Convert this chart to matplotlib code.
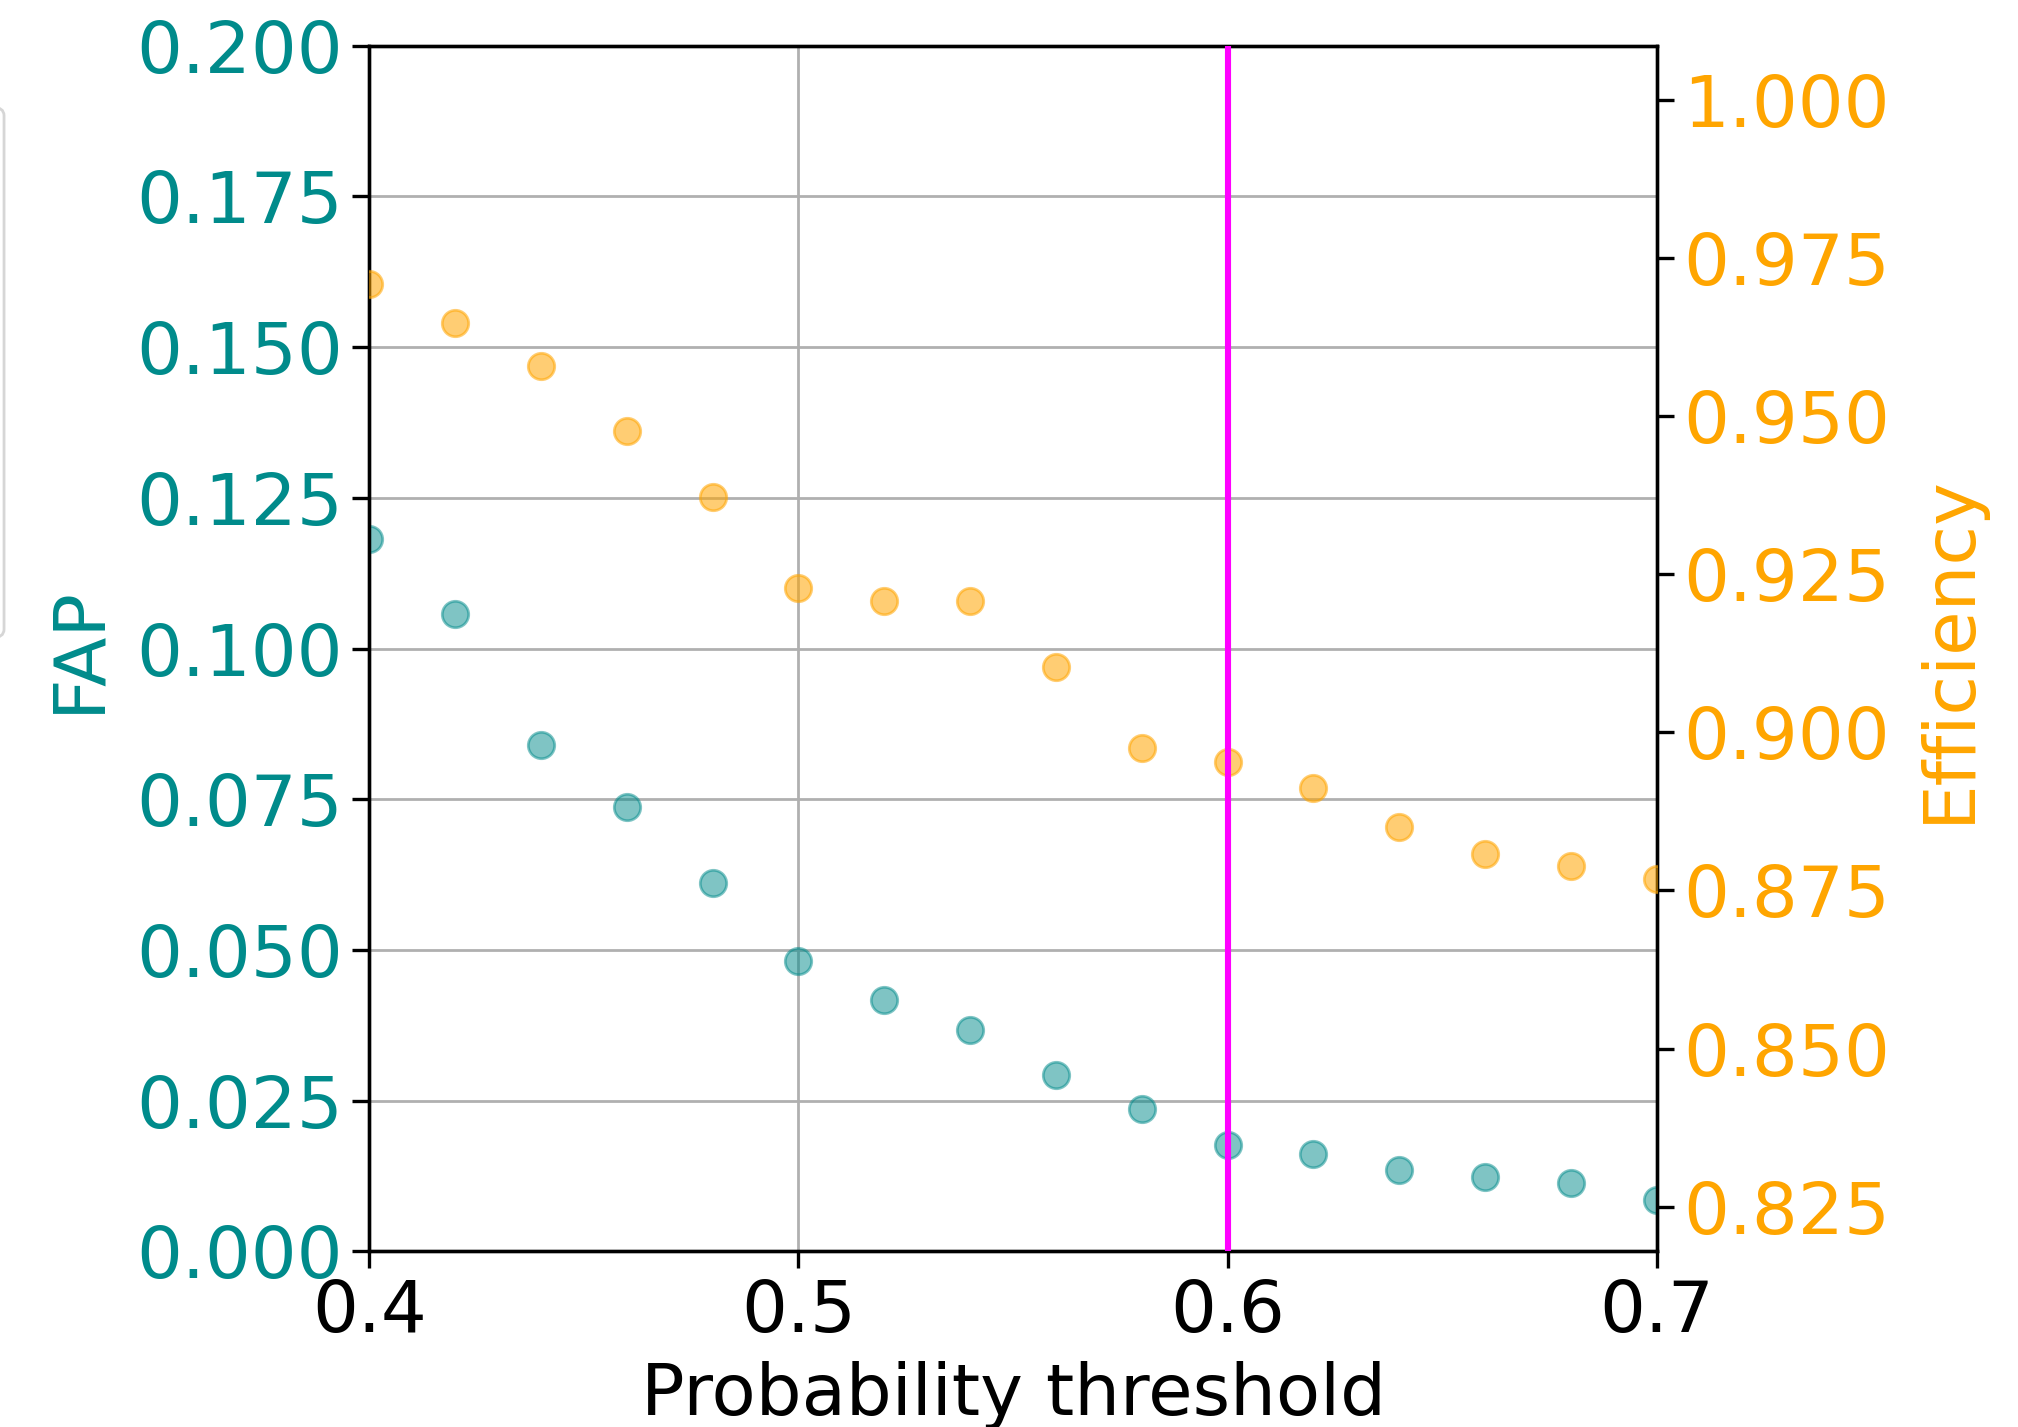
import matplotlib
matplotlib.use('Agg')
import matplotlib.pyplot as plt
from matplotlib.patches import FancyBboxPatch

# thresholds and the two curves
thresholds = [0.40, 0.42, 0.44, 0.46, 0.48, 0.50, 0.52, 0.54,
              0.56, 0.58, 0.60, 0.62, 0.64, 0.66, 0.68, 0.70]
fap = [0.1182, 0.1058, 0.0840, 0.0737, 0.0611, 0.0481, 0.0417, 0.0368,
       0.0293, 0.0237, 0.0177, 0.0162, 0.0135, 0.0124, 0.0113, 0.0085]
efficiency = [0.9709, 0.9648, 0.9580, 0.9477, 0.9373, 0.9228, 0.9208, 0.9208,
              0.9104, 0.8975, 0.8953, 0.8912, 0.8851, 0.8808, 0.8788, 0.8768]
chosen_threshold = 0.6

fap_ticks = [0.0, 0.025, 0.05, 0.075, 0.1, 0.125, 0.15, 0.175, 0.2]
eff_ticks = [0.825, 0.85, 0.875, 0.9, 0.925, 0.95, 0.975, 1.0]
x_ticks = [0.4, 0.5, 0.6, 0.7]

fs = 26
fig = plt.figure(figsize=(10.09, 7.135), dpi=200)
ax = fig.add_axes([0.183, 0.123, 0.638, 0.845])

ax.plot(thresholds, fap, 'o', color='darkcyan', alpha=0.5, markersize=9.5,
        zorder=3)
ax.set_xlim(0.4, 0.7)
ax.set_ylim(0, 0.2)
ax.set_xticks(x_ticks)
ax.set_xticklabels(['{:.1f}'.format(t) for t in x_ticks])
ax.set_yticks(fap_ticks)
ax.set_yticklabels(['{:.3f}'.format(t) for t in fap_ticks])
ax.grid(True, color='#b0b0b0', linewidth=1.0)
ax.tick_params(axis='both', labelsize=fs, length=6, width=1.2)
ax.tick_params(axis='y', labelcolor='darkcyan')
ax.set_xlabel('Probability threshold', fontsize=fs, labelpad=5)
ax.set_ylabel('FAP', fontsize=fs, color='darkcyan', labelpad=8)
for s in ax.spines.values():
    s.set_linewidth(1.2)

ax2 = ax.twinx()
ax2.plot(thresholds, efficiency, 'o', color='orange', alpha=0.55, markersize=9.5,
         zorder=3)
ax2.set_ylim(0.8179, 1.0086)
ax2.set_yticks(eff_ticks)
ax2.set_yticklabels(['{:.3f}'.format(t) for t in eff_ticks])
ax2.tick_params(axis='y', labelsize=fs, labelcolor='orange', length=6, width=1.2)
ax2.set_ylabel('Efficiency', fontsize=fs, color='orange', labelpad=9)
for s in ax2.spines.values():
    s.set_linewidth(1.2)

ax2.axvline(chosen_threshold, color='magenta', linewidth=2.2, zorder=4)

# edge of a legend box cut off at the left border
box = FancyBboxPatch((-0.05, 0.553), 0.052, 0.372, transform=fig.transFigure,
                     boxstyle='round,pad=0,rounding_size=0.006',
                     facecolor='none', edgecolor='#d6d6d6', linewidth=1.0)
fig.patches.append(box)

fig.savefig('out.png', dpi=200)
